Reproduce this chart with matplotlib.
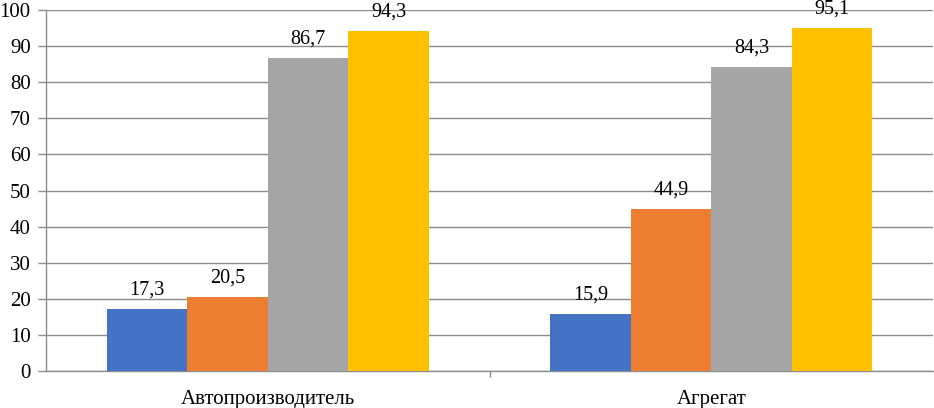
import matplotlib
matplotlib.use("Agg")
import matplotlib.pyplot as plt
import numpy as np

categories = ["Автопроизводитель", "Агрегат"]
series1 = [17.3, 15.9]
series2 = [20.5, 44.9]
series3 = [86.7, 84.3]
series4 = [94.3, 95.1]
colors = ["#4472C4", "#ED7D31", "#A5A5A5", "#FFC000"]
yticks = list(range(0, 101, 10))

plt.rcParams['font.family'] = ['Liberation Serif', 'DejaVu Serif']

fig = plt.figure(figsize=(9.34, 4.08), dpi=100)
ax = fig.add_axes([46/934, 1-371/408, 1-46/934-0.001, (371-10)/408])

x = np.arange(len(categories))
bw = 0.1815
allseries = [series1, series2, series3, series4]
for i, (s, c) in enumerate(zip(allseries, colors)):
    pos = x + (i - 1.5) * bw
    bars = ax.bar(pos, s, width=bw, color=c, zorder=3)
    for p, v in zip(pos, s):
        ax.text(p, v + 2.6, f"{v:.1f}".replace(".", ","), ha="center", va="bottom",
                fontsize=14.5, zorder=4)

ax.set_xlim(-0.5, 1.5)
ax.set_ylim(0, 100)
ax.set_yticks(yticks)
ax.set_yticklabels([str(t) for t in yticks], fontsize=15)
ax.yaxis.grid(True, color="#8c8c8c", linewidth=1.0, zorder=0)
ax.set_axisbelow(True)
ax.set_xticks(x)
ax.set_xticklabels(categories, fontsize=15)
ax.tick_params(axis="x", which="major", length=0, pad=14)
ax.set_xticks([0.5], minor=True)
ax.tick_params(axis="x", which="minor", length=4, color="#8c8c8c", width=1)
ax.tick_params(axis="y", length=6, color="#8c8c8c", width=1, pad=5)
for sp in ["top", "right"]:
    ax.spines[sp].set_visible(False)
ax.spines["left"].set_color("#8c8c8c")
ax.spines["bottom"].set_color("#8c8c8c")
ax.spines["left"].set_linewidth(1)
ax.spines["bottom"].set_linewidth(1)

fig.savefig("out.png", dpi=100)
